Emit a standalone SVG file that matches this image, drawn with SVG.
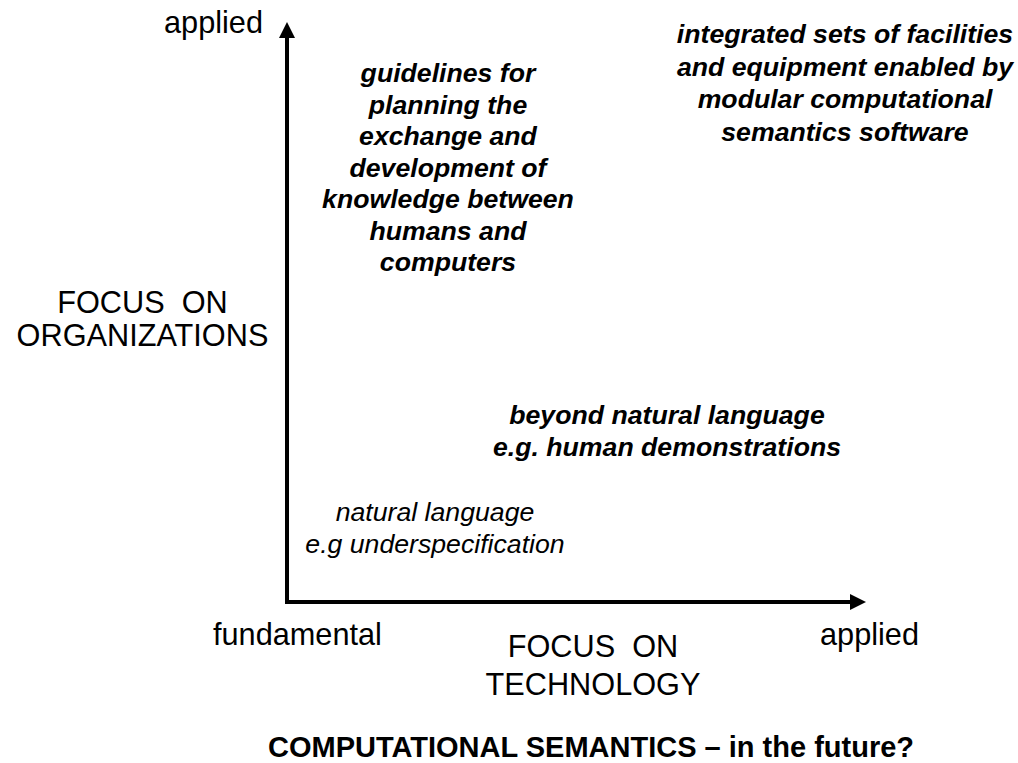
<svg xmlns="http://www.w3.org/2000/svg" width="1018" height="763" viewBox="0 0 1018 763">
  <style>
    .axis { fill: none; stroke: #000; stroke-width: 4; stroke-linejoin: miter; }
    .lbl { font-family: "Liberation Sans", Arial, sans-serif; font-size: 30.7px; fill: #000; white-space: pre; }
    .bi { font-family: "Liberation Sans", Arial, sans-serif; font-size: 26.67px; font-weight: bold; font-style: italic; fill: #000; text-anchor: middle; }
    .it { font-family: "Liberation Sans", Arial, sans-serif; font-size: 26.67px; font-style: italic; fill: #000; text-anchor: middle; }
    .title { font-family: "Liberation Sans", Arial, sans-serif; font-size: 29px; font-weight: bold; fill: #000; text-anchor: middle; }
    .mid { text-anchor: middle; }
  </style>
  <defs>
    <marker id="arrow" viewBox="0 0 16 16" markerWidth="16" markerHeight="16" refX="1" refY="8" orient="auto" markerUnits="userSpaceOnUse">
      <path d="M0,0 L16,8 L0,16 z" fill="#000"/>
    </marker>
  </defs>
  <rect width="1018" height="763" fill="#fff"/>

  <!-- axes -->
  <g id="connectors">
    <line class="axis" x1="287" y1="604" x2="287" y2="37" marker-end="url(#arrow)"/>
    <line class="axis" x1="285" y1="602" x2="851" y2="602" marker-end="url(#arrow)"/>
  </g>

  <!-- axis labels -->
  <g id="y-applied"><text class="lbl" x="164" y="33">applied</text></g>
  <g id="y-title">
    <text class="lbl mid" x="142.5" y="313" xml:space="preserve">FOCUS  ON</text>
    <text class="lbl mid" x="142.5" y="346">ORGANIZATIONS</text>
  </g>
  <g id="x-fundamental"><text class="lbl" x="213" y="645">fundamental</text></g>
  <g id="x-title">
    <text class="lbl mid" x="593" y="657" xml:space="preserve">FOCUS  ON</text>
    <text class="lbl mid" x="593" y="695">TECHNOLOGY</text>
  </g>
  <g id="x-applied"><text class="lbl" x="820" y="645">applied</text></g>

  <!-- quadrant entries -->
  <g id="guidelines">
    <text class="bi" x="448" y="82">guidelines for</text>
    <text class="bi" x="448" y="113.5">planning the</text>
    <text class="bi" x="448" y="145">exchange and</text>
    <text class="bi" x="448" y="176.5">development of</text>
    <text class="bi" x="448" y="208">knowledge between</text>
    <text class="bi" x="448" y="239.5">humans and</text>
    <text class="bi" x="448" y="271">computers</text>
  </g>
  <g id="facilities">
    <text class="bi" x="845" y="43">integrated sets of facilities</text>
    <text class="bi" x="845" y="75.5">and equipment enabled by</text>
    <text class="bi" x="845" y="108">modular computational</text>
    <text class="bi" x="845" y="140.5">semantics software</text>
  </g>
  <g id="beyond">
    <text class="bi" x="667" y="424">beyond natural language</text>
    <text class="bi" x="667" y="456">e.g. human demonstrations</text>
  </g>
  <g id="natural">
    <text class="it" x="435" y="521">natural language</text>
    <text class="it" x="435" y="553">e.g underspecification</text>
  </g>

  <g id="caption">
    <text class="title" x="591" y="757">COMPUTATIONAL SEMANTICS – in the future?</text>
  </g>
</svg>
